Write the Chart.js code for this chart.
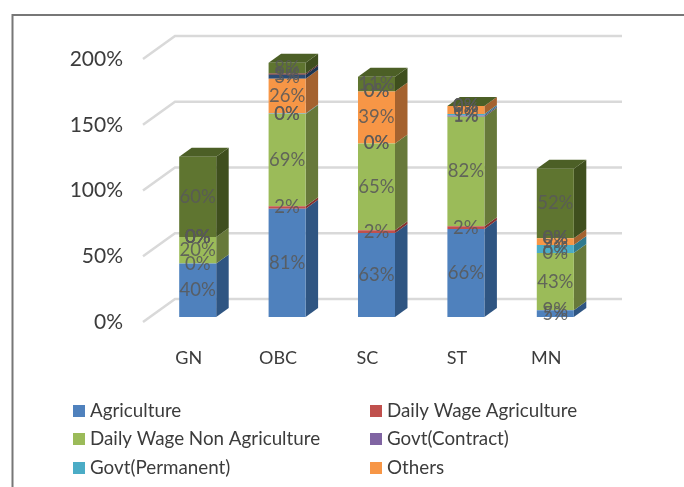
<!DOCTYPE html>
<html><head><meta charset="utf-8">
<style>html,body{margin:0;padding:0;background:#fff}canvas{display:block}</style>
<script src="https://cdn.jsdelivr.net/npm/chart.js@4"></script>
</head><body>
<canvas id="c" width="684" height="487"></canvas>
<script>
const categories = ['GN','OBC','SC','ST','MN'];
const tickMax = 200;
const barPlaneMax = 197;
const agriculture = [40,81,63,66,5];
const dailyWageAgri = [0,2,2,2,0];
const dailyWageNonAgri = [20,69,65,82,43];
const govtContract = [0,0,0,1,0];
const govtPermanent = [0,0.4,0,1,6];
const others = [0,26,39,6,5];
const series7 = [0,3,0,0,0];
const series8 = [0,1,0,0,0];
const series9 = [60,8,11,0,52];
const dailyWageAgriLabels = ['0%','2%','2%','2%','9%'];
const seriesNames = ['Agriculture','Daily Wage Agriculture','Daily Wage Non Agriculture','Govt(Contract)','Govt(Permanent)','Others','Series 7','Series 8','Series 9'];
const seriesValues = [agriculture,dailyWageAgri,dailyWageNonAgri,govtContract,govtPermanent,others,series7,series8,series9];
const frontColors = ['#4F81BD','#C0504D','#9BBB59','#8064A2','#4BACC6','#F79646','#2C4D75','#772C2A','#5F7530'];
const sideColors  = ['#2F5582','#85312F','#67793A','#574370','#2F7A8E','#A4622F','#1D3450','#501D1C','#3F4F1E'];
const topColors   = ['#3A659A','#9A3E3B','#7A9046','#675083','#3A8FA6','#C07538','#243F60','#602422','#4C5F26'];
const legendNames = seriesNames.slice(0,6);
const FONT = 'Lato';
const DX = 12.5, DY = 9;

const depthPlugin = {
  id:'depth',
  beforeDraw(chart){
    const c = chart.ctx;
    c.save();
    c.fillStyle='#fff'; c.fillRect(0,0,chart.width,chart.height);
    c.strokeStyle='#777'; c.lineWidth=2;
    c.beginPath(); c.moveTo(12.5,487); c.lineTo(12.5,15); c.lineTo(684,15); c.stroke();
    c.restore();
  },
  beforeDatasetsDraw(chart){
    const c = chart.ctx, y = chart.scales.y, a = chart.chartArea;
    c.save();
    y.ticks.forEach(t=>{
      const p = y.getPixelForValue(t.value);
      c.strokeStyle='#d9d9d9'; c.lineWidth=2.5; c.lineJoin='miter';
      c.beginPath();
      c.moveTo(a.left-10,p+5);
      c.lineTo(a.left+22,p-18);
      c.lineTo(a.right+22,p-18);
      c.stroke();
    });
    chart.data.labels.forEach((_,i)=>{
      let top=null;
      chart.data.datasets.forEach((d,s)=>{
        const el = chart.getDatasetMeta(s).data[i];
        const r = el.x+el.width/2, yt = el.y, yb = el.base;
        c.fillStyle=sideColors[s];
        c.beginPath();
        c.moveTo(r,yb); c.lineTo(r+DX,yb-DY); c.lineTo(r+DX,yt-DY); c.lineTo(r,yt); c.closePath(); c.fill();
        top=el;
      });
      const l=top.x-top.width/2, r=top.x+top.width/2, t=top.y;
      c.fillStyle=topColors[chart.data.datasets.length-1];
      c.beginPath();
      c.moveTo(l,t); c.lineTo(l+DX,t-DY); c.lineTo(r+DX,t-DY); c.lineTo(r,t); c.closePath(); c.fill();
    });
    c.restore();
  },
  afterDatasetsDraw(chart){
    const c = chart.ctx;
    c.save();
    c.font='18.5px '+FONT; c.textAlign='center'; c.textBaseline='middle';
    c.fillStyle='rgba(89,89,89,0.88)';
    chart.data.datasets.forEach((d,s)=>{
      chart.getDatasetMeta(s).data.forEach((el,i)=>{
        const text = s===1 ? dailyWageAgriLabels[i] : Math.round(d.data[i])+'%';
        c.fillText(text, el.x, (el.y+el.base)/2);
      });
    });
    c.font='18.8px '+FONT; c.textAlign='left'; c.textBaseline='middle';
    const cols=[73,370], rows=[411,439,468];
    legendNames.forEach((n,i)=>{
      const x=cols[i%2], yy=rows[Math.floor(i/2)];
      c.fillStyle=frontColors[i]; c.fillRect(x,yy-6,12,12);
      c.fillStyle='#3c3c3c'; c.fillText(n,x+17,yy);
    });
    c.restore();
  }
};

new Chart(document.getElementById('c'),{
  type:'bar',
  data:{labels:categories,datasets:seriesNames.map((n,i)=>({
    label:n,data:seriesValues[i],backgroundColor:frontColors[i],borderWidth:0,yAxisID:'yb',
    barPercentage:0.414,categoryPercentage:1,inflateAmount:0
  }))},
  plugins:[depthPlugin],
  options:{
    responsive:false,animation:false,
    layout:{padding:{left:0,right:84,top:54,bottom:0}},
    plugins:{legend:{display:false},tooltip:{enabled:false},title:{display:false}},
    scales:{
      x:{stacked:true,grid:{display:false,drawTicks:false},border:{display:false},
        afterFit(s){s.height=170;},
        ticks:{color:'#3c3c3c',font:{family:FONT,size:18},padding:30,labelOffset:-9,maxRotation:0}},
      y:{min:0,max:tickMax,grid:{display:false,drawTicks:false},border:{display:false},
        afterFit(s){s.width=153;},
        ticks:{stepSize:50,color:'#3c3c3c',font:{family:FONT,size:21},padding:30,labelOffset:5,callback:v=>v+'%'}},
      yb:{stacked:true,display:false,min:0,max:barPlaneMax}
    }
  }
});
</script>
</body></html>
